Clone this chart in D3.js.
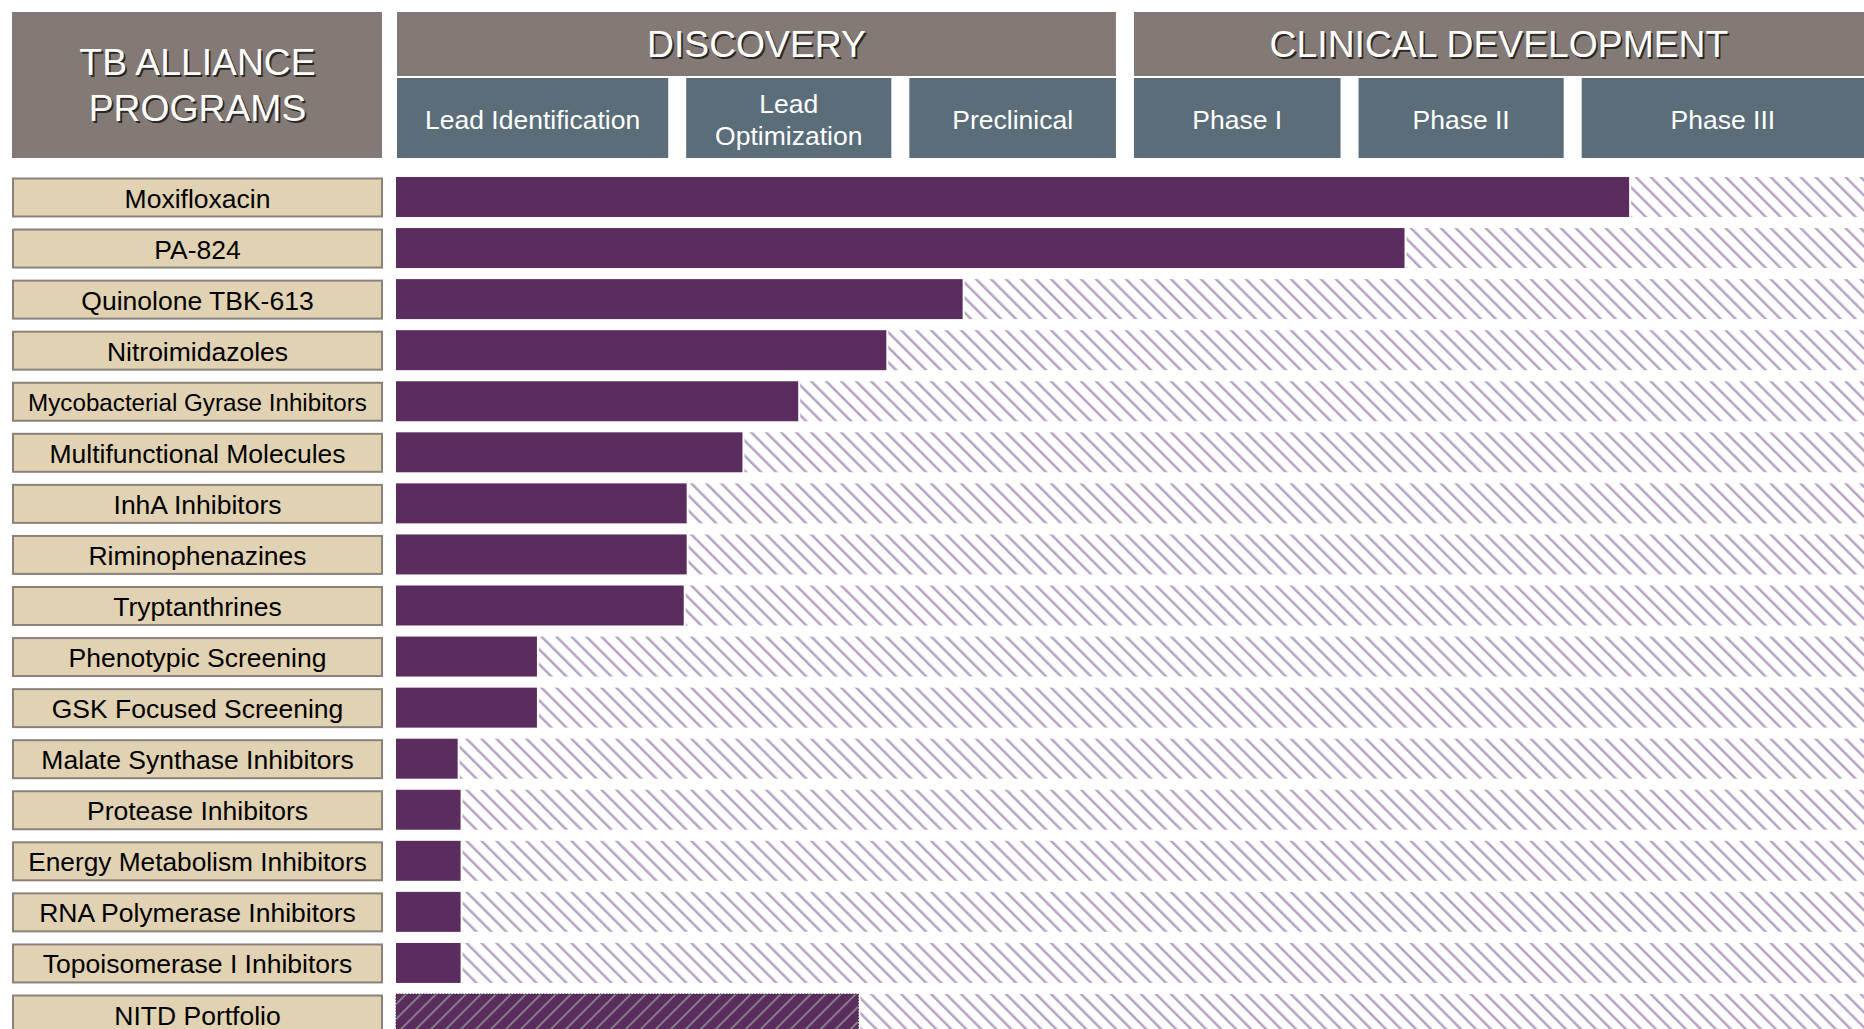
<!DOCTYPE html>
<html>
<head>
<meta charset="utf-8">
<script src="https://cdn.jsdelivr.net/npm/d3@7"></script>
<style>
  html, body { margin: 0; padding: 0; background: #fff; overflow: hidden; }
  svg { display: block; font-family: "Liberation Sans", Arial, sans-serif; }
</style>
</head>
<body>
<div id="chart"></div>
<script>
// programs, top to bottom, and how far each has come along the pipeline (0-100)
const programs = [
  'Moxifloxacin',
  'PA-824',
  'Quinolone TBK-613',
  'Nitroimidazoles',
  'Mycobacterial Gyrase Inhibitors',
  'Multifunctional Molecules',
  'InhA Inhibitors',
  'Riminophenazines',
  'Tryptanthrines',
  'Phenotypic Screening',
  'GSK Focused Screening',
  'Malate Synthase Inhibitors',
  'Protease Inhibitors',
  'Energy Metabolism Inhibitors',
  'RNA Polymerase Inhibitors',
  'Topoisomerase I Inhibitors',
  'NITD Portfolio',
];
const progress = [84.0, 68.7, 38.6, 33.4, 27.4, 23.6, 19.8, 19.8, 19.6, 9.6, 9.6, 4.2, 4.4, 4.4, 4.4, 4.4, 31.5];
// partner portfolio gets the striped bar
const portfolios = ['NITD Portfolio'];

const stages = ['Lead Identification', 'Lead\nOptimization', 'Preclinical', 'Phase I', 'Phase II', 'Phase III'];
const stageStarts = [0, 19.7, 34.9, 50.2, 65.5, 80.7];
const groups = ['DISCOVERY', 'CLINICAL DEVELOPMENT'];
const groupFirstStage = [0, 3];
const title = ['TB ALLIANCE', 'PROGRAMS'];

const width = 1864;
const height = 1029;
const gap = 17;
const labelBox = { left: 13, right: 382 };

const colors = {
  head: '#837a76',
  stage: '#5a6d79',
  bar: '#5b2c5e',
  hatch: '#b8a2c4',
  stripe: '#857f88',
  label: '#e0d2b2',
  labelEdge: '#8a8179',
};

const svg = d3.select('#chart').append('svg')
  .attr('width', width)
  .attr('height', height);

const defs = svg.append('defs');

// light diagonal hatch for the road still ahead
defs.append('pattern')
  .attr('id', 'hatch')
  .attr('patternUnits', 'userSpaceOnUse')
  .attr('width', 10.6)
  .attr('height', 10.6)
  .attr('patternTransform', 'rotate(-45)')
  .append('line')
  .attr('x1', 0).attr('y1', 0)
  .attr('x2', 0).attr('y2', 10.6)
  .attr('stroke', colors.hatch)
  .attr('stroke-width', 5);

const nitd = defs.append('pattern')
  .attr('id', 'nitd')
  .attr('patternUnits', 'userSpaceOnUse')
  .attr('width', 10.6)
  .attr('height', 10.6)
  .attr('patternTransform', 'rotate(45)');
nitd.append('rect').attr('width', 10.6).attr('height', 10.6).attr('fill', colors.bar);
nitd.append('line')
  .attr('x1', 0).attr('y1', 0)
  .attr('x2', 0).attr('y2', 10.6)
  .attr('stroke', colors.stripe)
  .attr('stroke-width', 4);

const x = d3.scaleLinear()
  .domain([0, 100])
  .range([396, width]);

const y = d3.scaleBand()
  .domain(programs)
  .range([177, 1034])
  .paddingInner(0.217);

const shadowText = (sel, txt, cx, cy, size) => {
  sel.append('text')
    .attr('x', cx + 1.8).attr('y', cy + 1.8)
    .attr('dy', '0.36em')
    .attr('text-anchor', 'middle')
    .style('font-size', `${size}px`)
    .attr('fill', '#2b2826')
    .text(txt);
  sel.append('text')
    .attr('x', cx).attr('y', cy)
    .attr('dy', '0.36em')
    .attr('text-anchor', 'middle')
    .style('font-size', `${size}px`)
    .attr('fill', '#fff')
    .text(txt);
};

// header
const head = svg.append('g').attr('class', 'header');

head.append('rect')
  .attr('x', labelBox.left - 1).attr('y', 12)
  .attr('width', labelBox.right - labelBox.left + 1).attr('height', 146)
  .attr('fill', colors.head);
title.forEach((t, i) => shadowText(head, t, (labelBox.left + labelBox.right) / 2, 62 + i * 46, 37.3));

const stageEnd = i => (i + 1 < stageStarts.length ? x(stageStarts[i + 1]) - gap : width);

groups.forEach((name, gi) => {
  const first = groupFirstStage[gi];
  const last = gi + 1 < groups.length ? groupFirstStage[gi + 1] - 1 : stages.length - 1;
  const x0 = x(stageStarts[first]) + 1;
  const x1 = stageEnd(last);
  head.append('rect')
    .attr('x', x0).attr('y', 12)
    .attr('width', x1 - x0).attr('height', 64)
    .attr('fill', colors.head);
  shadowText(head, name, (x0 + x1) / 2, 44, 37.3);
});

stages.forEach((name, i) => {
  const x0 = x(stageStarts[i]) + 1;
  const x1 = stageEnd(i);
  head.append('rect')
    .attr('x', x0).attr('y', 78)
    .attr('width', x1 - x0).attr('height', 80)
    .attr('fill', colors.stage);
  const lines = name.split('\n');
  const t = head.append('text')
    .attr('text-anchor', 'middle')
    .attr('fill', '#fff')
    .style('font-size', '26.5px');
  lines.forEach((l, li) => {
    t.append('tspan')
      .attr('x', (x0 + x1) / 2)
      .attr('y', 119 + (li - (lines.length - 1) / 2) * 32)
      .attr('dy', '0.36em')
      .text(l);
  });
});

// rows
const rows = svg.append('g').attr('class', 'rows')
  .selectAll('g')
  .data(programs.map((name, i) => ({ name, value: progress[i] })))
  .join('g')
  .attr('transform', d => `translate(0,${y(d.name)})`);

rows.append('rect')
  .attr('x', labelBox.left)
  .attr('y', 1.5)
  .attr('width', labelBox.right - labelBox.left)
  .attr('height', y.bandwidth() - 2)
  .attr('fill', colors.label)
  .attr('stroke', colors.labelEdge)
  .attr('stroke-width', 2);

rows.append('text')
  .attr('x', (labelBox.left + labelBox.right) / 2)
  .attr('y', y.bandwidth() / 2 + 1)
  .attr('dy', '0.36em')
  .attr('text-anchor', 'middle')
  .attr('fill', '#000')
  .style('font-size', '26.5px')
  .text(d => d.name)
  .each(function fit() {
    const room = labelBox.right - labelBox.left - 30;
    const len = this.getComputedTextLength();
    if (len > room) d3.select(this).style('font-size', `${26.5 * room / len}px`);
  });

rows.append('rect')
  .attr('x', d => x(d.value) + 2)
  .attr('y', 0)
  .attr('width', d => x(100) - x(d.value) - 2)
  .attr('height', y.bandwidth())
  .attr('fill', 'url(#hatch)');

rows.append('rect')
  .attr('x', x(0))
  .attr('y', 0)
  .attr('width', d => x(d.value) - x(0))
  .attr('height', y.bandwidth())
  .attr('fill', d => (portfolios.includes(d.name) ? 'url(#nitd)' : colors.bar))
  .attr('stroke', d => (portfolios.includes(d.name) ? '#3a2a3c' : 'none'))
  .attr('stroke-dasharray', d => (portfolios.includes(d.name) ? '1.5,1.5' : null))
  .attr('stroke-width', 1);
</script>
</body>
</html>
